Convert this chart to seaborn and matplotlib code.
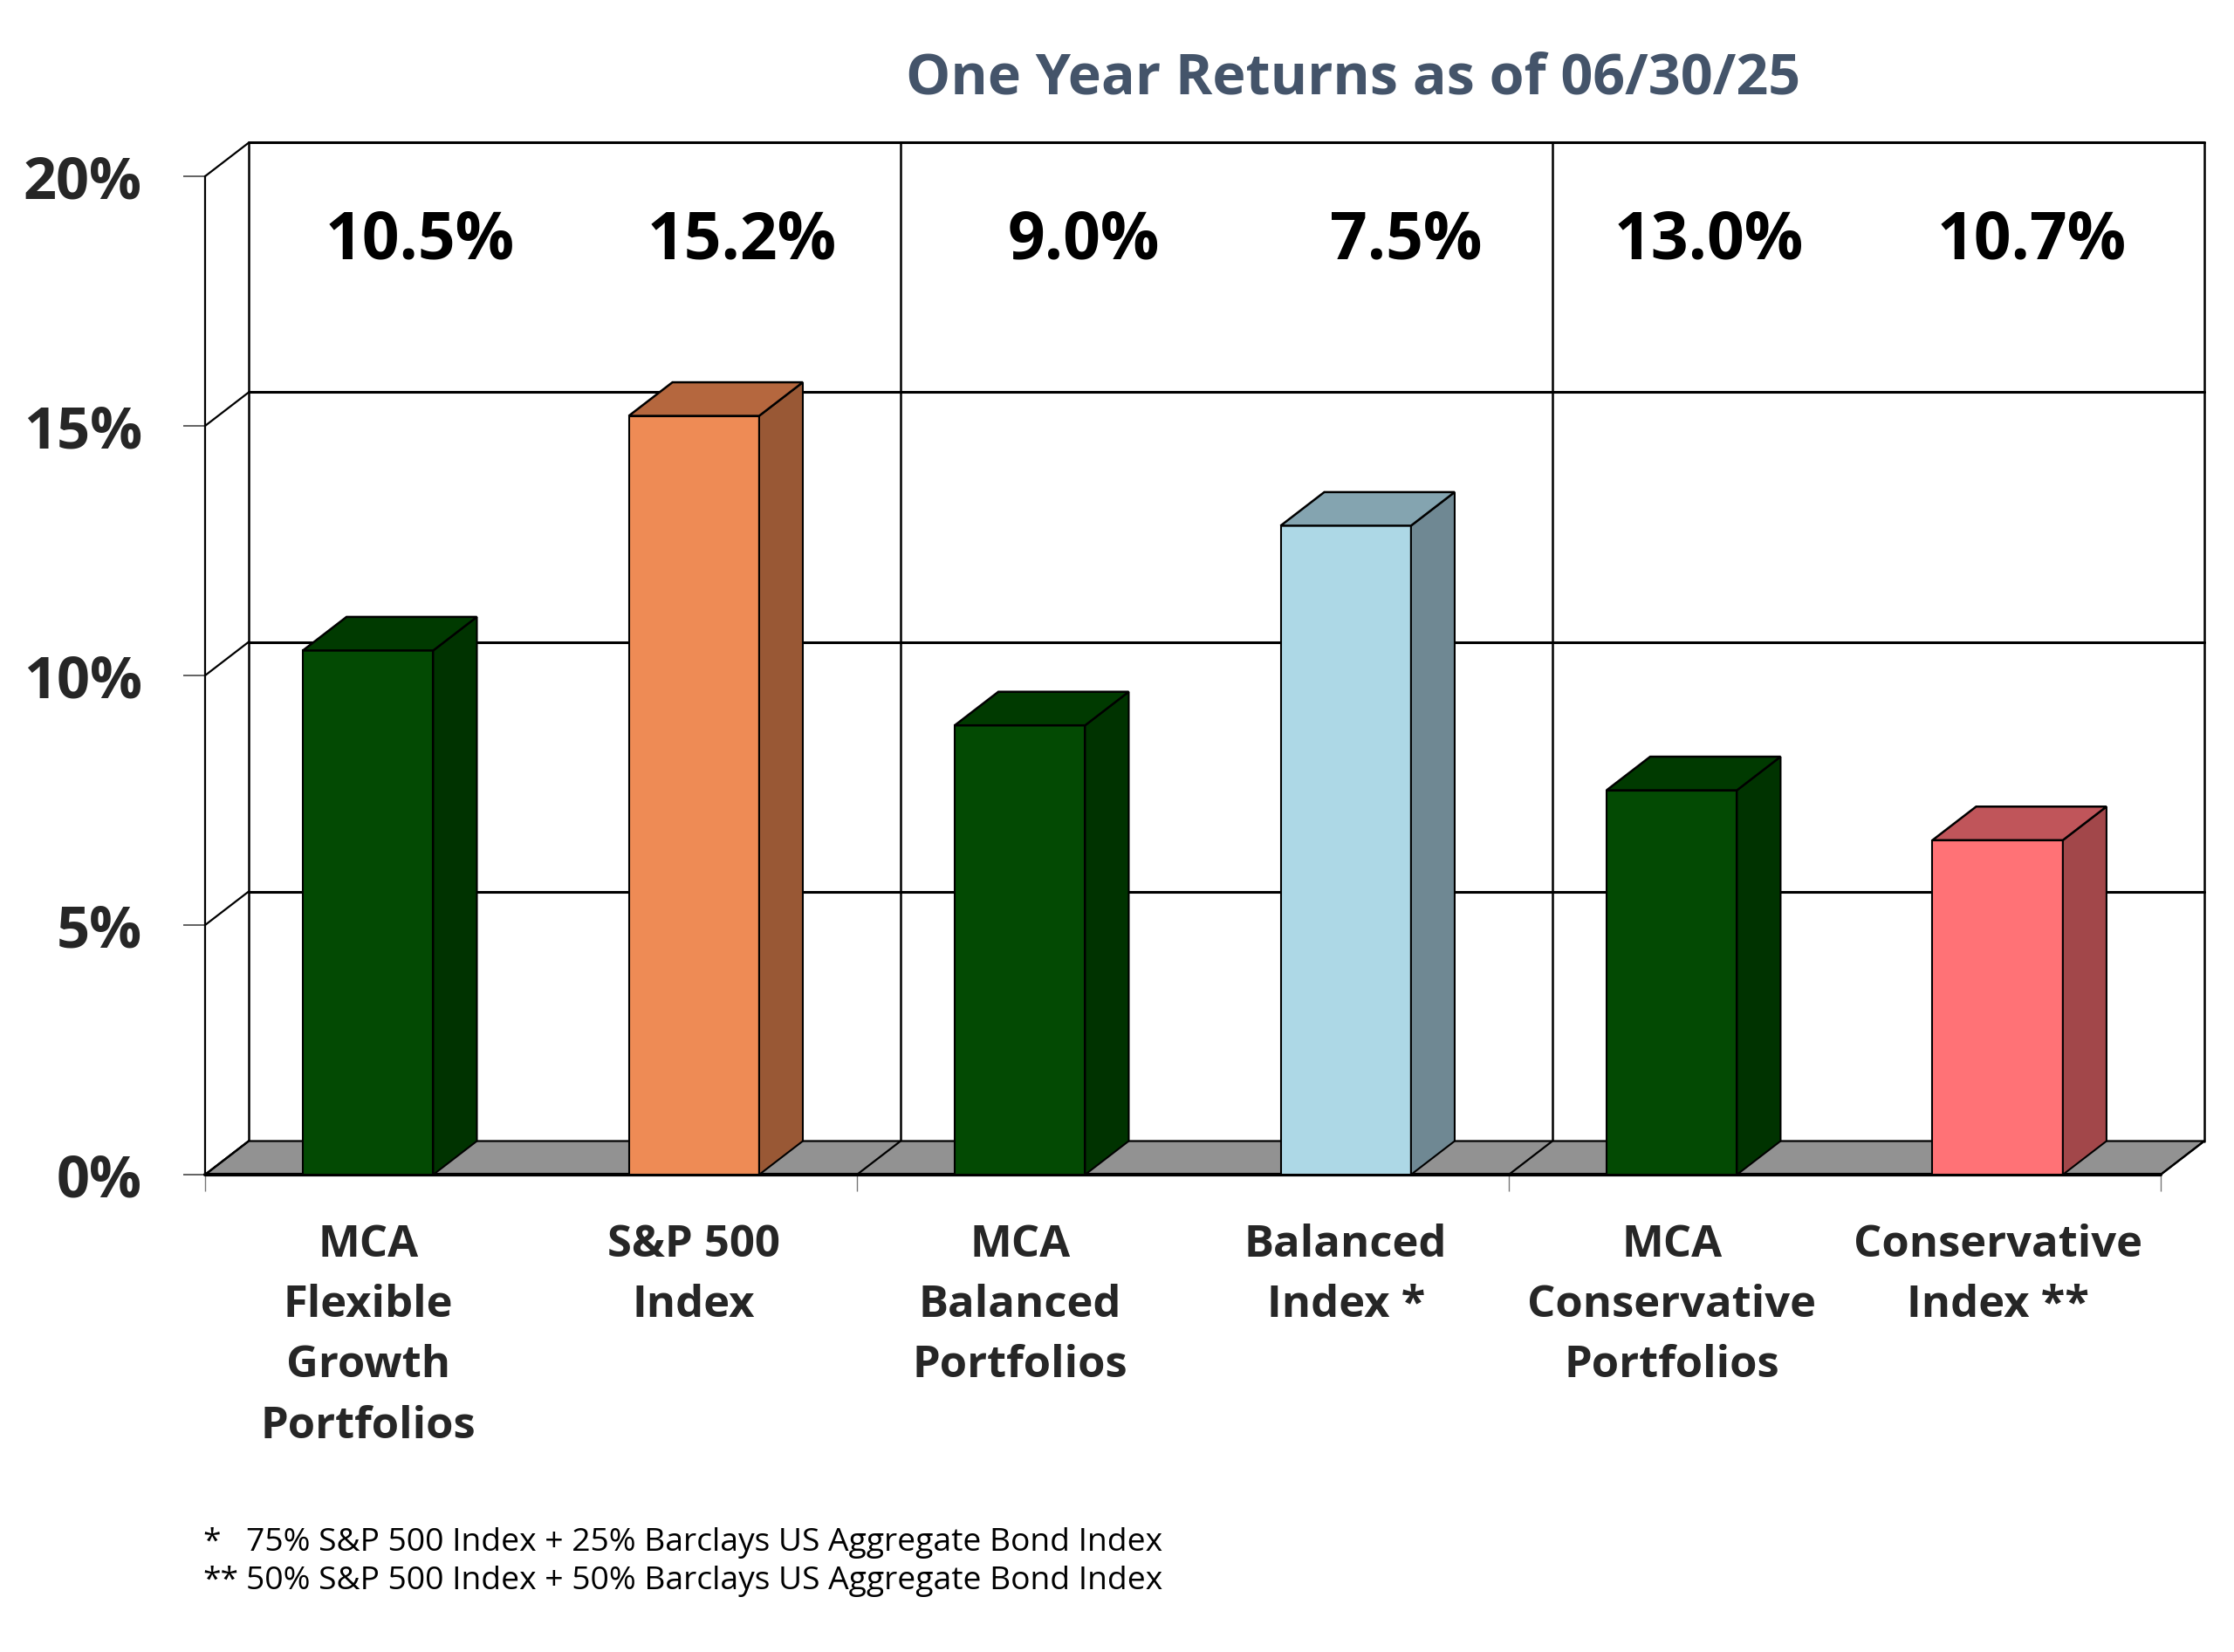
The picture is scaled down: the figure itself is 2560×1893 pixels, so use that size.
import matplotlib
matplotlib.use("Agg")
import matplotlib.pyplot as plt
from matplotlib.patches import Polygon
import seaborn as sns
import pandas as pd

# chart data
categories = [
    "MCA\nFlexible\nGrowth\nPortfolios",
    "S&P 500\nIndex",
    "MCA\nBalanced\nPortfolios",
    "Balanced\nIndex *",
    "MCA\nConservative\nPortfolios",
    "Conservative\nIndex **",
]
bar_values = [10.5, 15.2, 9.0, 13.0, 7.7, 6.7]
value_labels = ["10.5%", "15.2%", "9.0%", "7.5%", "13.0%", "10.7%"]
front_colors = ["#034a03", "#ee8b55", "#034a03", "#add8e6", "#034a03", "#ff7276"]
top_colors = ["#003a00", "#b5673e", "#003a00", "#84a4b0", "#003a00", "#c0555a"]
side_colors = ["#003300", "#995835", "#003300", "#6f8893", "#003300", "#a2474a"]
y_ticks = [0, 5, 10, 15, 20]
y_tick_labels = ["0%", "5%", "10%", "15%", "20%"]
group_edges = [-0.5, 1.5, 3.5, 5.5]
title = "One Year Returns as of 06/30/25"
footnote_marks = ["*", "**"]
footnotes = [
    "75% S&P 500 Index + 25% Barclays US Aggregate Bond Index",
    "50% S&P 500 Index + 50% Barclays US Aggregate Bond Index",
]

sns.set_theme(style="white")
plt.rcParams["font.family"] = ["Open Sans", "DejaVu Sans"]

# 3D depth offset in data units
dx = 0.134
dy = 0.673
ymax = 20

fig = plt.figure(figsize=(25.6, 18.93), dpi=100)
ax = fig.add_axes([0.0918, 0.28896, 0.8949, 0.62467])

df = pd.DataFrame({"category": categories, "value": bar_values})
sns.barplot(data=df, x="category", y="value", hue="category", palette=front_colors,
            width=0.4, edgecolor="black", linewidth=1.5, legend=False, ax=ax,
            saturation=1, zorder=4)

# back wall and left wall lines
for v in y_ticks[1:]:
    ax.plot([-0.5 + dx, 5.5 + dx], [v + dy, v + dy], color="black", lw=2.2,
            zorder=1, clip_on=False)
for v in y_ticks:
    ax.plot([-0.5, -0.5 + dx], [v, v + dy], color="black", lw=1.6, zorder=1, clip_on=False)
for e in group_edges:
    ax.plot([e + dx, e + dx], [dy, ymax + dy], color="black", lw=1.8, zorder=1, clip_on=False)

# floor
floor = Polygon([(-0.5, 0), (5.5, 0), (5.5 + dx, dy), (-0.5 + dx, dy)], closed=True,
                facecolor="#929292", edgecolor="black", lw=1.6, zorder=2, clip_on=False)
ax.add_patch(floor)
for e in group_edges:
    ax.plot([e, e + dx], [0, dy], color="black", lw=1.6, zorder=2, clip_on=False)
ax.plot([-0.5, 5.5], [0, 0], color="black", lw=3, zorder=3, clip_on=False)

# top and side faces of the bars
for i, p in enumerate(ax.patches[:len(bar_values)]):
    x0, w, h = p.get_x(), p.get_width(), p.get_height()
    top = Polygon([(x0, h), (x0 + w, h), (x0 + w + dx, h + dy), (x0 + dx, h + dy)],
                  closed=True, facecolor=top_colors[i], edgecolor="black", lw=1.8, zorder=5)
    side = Polygon([(x0 + w, 0), (x0 + w + dx, dy), (x0 + w + dx, h + dy), (x0 + w, h)],
                   closed=True, facecolor=side_colors[i], edgecolor="black", lw=1.5, zorder=5)
    ax.add_patch(side)
    ax.add_patch(top)

# value labels on the back wall (right aligned, drifting slightly left)
for i, lab in enumerate(value_labels):
    ax.text(i + 0.45 - 0.011 * i, 18.68, lab, ha="right", va="center", fontsize=54,
            fontweight="bold", color="black", zorder=6)

ax.set_xlim(-0.5, 5.5 + dx)
ax.set_ylim(0, ymax + dy)

for s in ["top", "right"]:
    ax.spines[s].set_visible(False)
ax.spines["left"].set_bounds(0, ymax)
ax.spines["left"].set_color("black")
ax.spines["left"].set_linewidth(1.6)
ax.spines["bottom"].set_visible(False)

ax.set_yticks(y_ticks, y_tick_labels)
ax.tick_params(axis="y", which="major", left=True, length=18, width=1.3, color="#555555",
               pad=34, labelsize=48)
for t in ax.get_yticklabels():
    t.set_fontweight("bold")

ax.set_xticks(group_edges, [""] * len(group_edges))
ax.set_xticks(range(len(categories)), categories, minor=True)
ax.tick_params(axis="x", which="major", bottom=True, length=14, width=1.0, color="#777777")
ax.tick_params(axis="x", which="minor", bottom=True, length=0, pad=40, labelsize=36.5)
for t in ax.get_xticklabels(minor=True):
    t.set_fontweight("bold")
    t.set_linespacing(1.51)

ax.set_xlabel("")
ax.set_ylabel("")
ax.grid(False)

fig.text(1551 / 2560, 1 - 91 / 1893, title, ha="center", va="center", fontsize=46.5,
         fontweight="bold", color="#44546a")

for k, (mark, note) in enumerate(zip(footnote_marks, footnotes)):
    yy = 1 - (1768 + 44 * k) / 1893
    fig.text(232 / 2560, yy, mark, ha="left", va="center", fontsize=26.8, color="black")
    fig.text(282 / 2560, yy, note, ha="left", va="center", fontsize=26.8, color="black")

fig.savefig("out.png", dpi=100)
